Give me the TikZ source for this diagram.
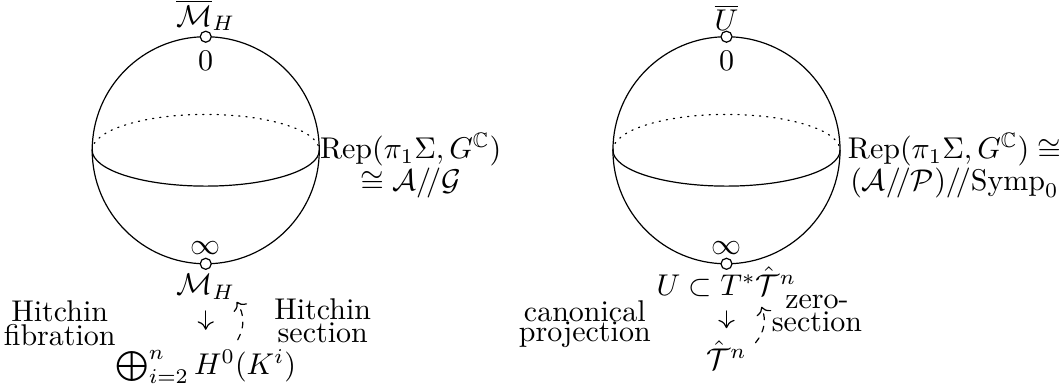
\documentclass[tikz,border=0pt]{standalone}
\usepackage{amsmath,amssymb}
\usepackage{tikz}
\usetikzlibrary{positioning,arrows.meta}

\begin{document}
\begin{tikzpicture}[scale=1.0, line cap=round, line join=round,
  marked/.style={circle, draw, fill=white, inner sep=1.3pt},
  tag/.style={inner sep=1pt},
  fibre/.style={inner sep=1pt, text height=7pt, text depth=2pt},
  twoline/.style={align=center},
  proj/.style={-{Computer Modern Rightarrow[length=2.8pt,width=5.4pt]}},
  section/.style={->, dash pattern=on 2pt off 2.2pt}]
\useasboundingbox (-2.41,-2.79) rectangle (10.03,1.76);
% left sphere
\draw (0,0) circle (1.33);
\draw[dotted] (-1.33,0) arc (180:0:1.33 and 0.42);
\draw (-1.33,0) arc (180:360:1.33 and 0.42);
\node[marked] (ltop) at (0,1.33) {};
\node[marked] (lbot) at (0,-1.33) {};
\node[tag, above=-1.3pt of ltop] (lmbar) {$\overline{\mathcal{M}}_H$};
\node[tag, below=1.7pt of ltop] (lzero) {$0$};
\node[tag, above=0pt of lbot] (linf) {$\infty$};
\node[fibre, below=0pt of lbot] (lmh) {$\mathcal{M}_H$};
\node[twoline] (lrep) at (2.40,-0.18) {$\mathrm{Rep}(\pi_1\Sigma,G^{\mathbb{C}})$\\[-1.3pt]$\cong\mathcal{A}/\!/\mathcal{G}$};
\node (lbase) at (0,-2.53) {$\bigoplus_{i=2}^n H^0(K^i)$};
\node[twoline] (lfib) at (-1.71,-2.03) {Hitchin\\[-4pt]fibration};
\node[twoline] (lsec) at (1.37,-2.00) {Hitchin\\[-4.2pt]section};
\draw[proj, shorten <=2.3pt, shorten >=3pt] (lmh.south) -- (lbase.north);
\coordinate (lsecfrom) at (0.375,-2.22);
\coordinate (lsecto) at (0.363,-1.775);
\draw[section] (lsecfrom) to[bend right=30] (lsecto);
% right sphere
\draw (6.10,0) circle (1.33);
\draw[dotted] (4.77,0) arc (180:0:1.33 and 0.42);
\draw (4.77,0) arc (180:360:1.33 and 0.42);
\node[marked] (rtop) at (6.10,1.33) {};
\node[marked] (rbot) at (6.10,-1.33) {};
\node[tag, above=-1.3pt of rtop] (rubar) {$\overline{U}$};
\node[tag, below=1.7pt of rtop] (rzero) {$0$};
\node[tag, above=0pt of rbot] (rinf) {$\infty$};
\node[fibre, below=0.3pt of rbot] (ru) {$U\subset T^*\hat{\mathcal{T}}^n$};
\node[twoline] (rrep) at (8.77,-0.18) {$\mathrm{Rep}(\pi_1\Sigma,G^{\mathbb{C}})\cong$\\[-1.3pt]$(\mathcal{A}/\!/\mathcal{P})/\!/\mathrm{Symp}_0$};
\node (rbase) at (6.10,-2.40) {$\hat{\mathcal{T}}^n$};
\node[twoline] (rproj) at (4.44,-2.04) {canonical\\[-5.3pt]projection};
\node[twoline] (rsec) at (7.16,-1.91) {zero-\\[-4.2pt]section};
\draw[proj, shorten <=2pt, shorten >=0.7pt] (ru.south) -- (rbase.north);
\coordinate (rsecfrom) at (6.44,-2.255);
\coordinate (rsecto) at (6.51,-1.833);
\draw[section] (rsecfrom) to[bend right=30] (rsecto);
\end{tikzpicture}
\end{document}
